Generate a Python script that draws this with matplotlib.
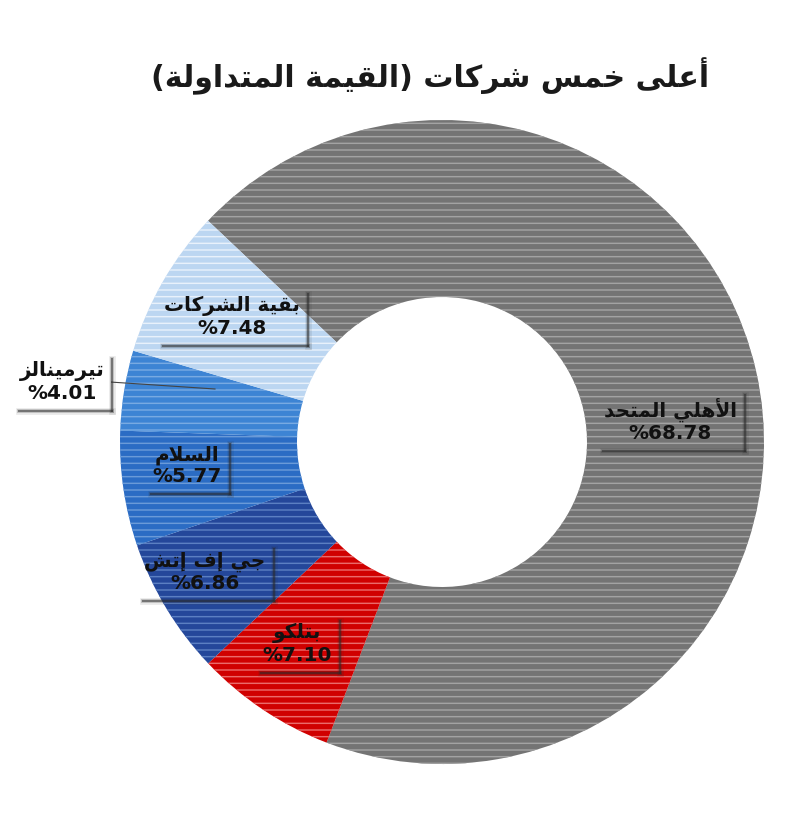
import matplotlib
matplotlib.use("Agg")
import matplotlib.pyplot as plt
from matplotlib.lines import Line2D

# ---------------- data ----------------
companies = ["الأهلي المتحد", "بتلكو", "جي إف إتش", "السلام", "تيرمينالز", "بقية الشركات"]
values = [68.78, 7.10, 6.86, 5.77, 4.01, 7.48]
value_labels = ["%68.78", "%7.10", "%6.86", "%5.77", "%4.01", "%7.48"]
title = "أعلى خمس شركات (القيمة المتداولة)"

face_colors = ["#747474", "#d00000", "#24479a", "#2b6cc4", "#3d84d4", "#bcd6f1"]
stripe_colors = ["#a3a3a3", "#ea6a6a", "#5b7fc2", "#6a9ad8", "#78aae2", "#e8f1fb"]

# ---------------- minimal Arabic shaping (presentation forms) ----------------
FORMS = {
    '\u0627': ('\uFE8D', '\uFE8E', None, None),
    '\u0623': ('\uFE83', '\uFE84', None, None),
    '\u0625': ('\uFE87', '\uFE88', None, None),
    '\u0628': ('\uFE8F', '\uFE90', '\uFE91', '\uFE92'),
    '\u0629': ('\uFE93', '\uFE94', None, None),
    '\u062A': ('\uFE95', '\uFE96', '\uFE97', '\uFE98'),
    '\u062C': ('\uFE9D', '\uFE9E', '\uFE9F', '\uFEA0'),
    '\u062D': ('\uFEA1', '\uFEA2', '\uFEA3', '\uFEA4'),
    '\u062E': ('\uFEA5', '\uFEA6', '\uFEA7', '\uFEA8'),
    '\u062F': ('\uFEA9', '\uFEAA', None, None),
    '\u0631': ('\uFEAD', '\uFEAE', None, None),
    '\u0632': ('\uFEAF', '\uFEB0', None, None),
    '\u0633': ('\uFEB1', '\uFEB2', '\uFEB3', '\uFEB4'),
    '\u0634': ('\uFEB5', '\uFEB6', '\uFEB7', '\uFEB8'),
    '\u0639': ('\uFEC9', '\uFECA', '\uFECB', '\uFECC'),
    '\u0641': ('\uFED1', '\uFED2', '\uFED3', '\uFED4'),
    '\u0642': ('\uFED5', '\uFED6', '\uFED7', '\uFED8'),
    '\u0643': ('\uFED9', '\uFEDA', '\uFEDB', '\uFEDC'),
    '\u0644': ('\uFEDD', '\uFEDE', '\uFEDF', '\uFEE0'),
    '\u0645': ('\uFEE1', '\uFEE2', '\uFEE3', '\uFEE4'),
    '\u0646': ('\uFEE5', '\uFEE6', '\uFEE7', '\uFEE8'),
    '\u0647': ('\uFEE9', '\uFEEA', '\uFEEB', '\uFEEC'),
    '\u0648': ('\uFEED', '\uFEEE', None, None),
    '\u0649': ('\uFEEF', '\uFEF0', None, None),
    '\u064A': ('\uFEF1', '\uFEF2', '\uFEF3', '\uFEF4'),
}
LAM_ALEF = {
    '\u0627': ('\uFEFB', '\uFEFC', None, None),
    '\u0623': ('\uFEF7', '\uFEF8', None, None),
    '\u0625': ('\uFEF9', '\uFEFA', None, None),
}


def shape(s):
    tokens = []
    i = 0
    while i < len(s):
        c = s[i]
        if c == '\u0644' and i + 1 < len(s) and s[i + 1] in LAM_ALEF:
            tokens.append((c + s[i + 1], LAM_ALEF[s[i + 1]]))
            i += 2
        else:
            tokens.append((c, FORMS.get(c)))
            i += 1
    out = []
    for k, (c, f) in enumerate(tokens):
        if f is None:
            out.append(c)
            continue
        prev = tokens[k - 1][1] if k > 0 else None
        nxt = tokens[k + 1][1] if k + 1 < len(tokens) else None
        jp = prev is not None and prev[2] is not None
        jn = f[2] is not None and nxt is not None
        if jp and jn:
            out.append(f[3])
        elif jp:
            out.append(f[1])
        elif jn:
            out.append(f[2])
        else:
            out.append(f[0])
    vis = ''.join(out)[::-1]
    return vis.translate(str.maketrans('()', ')('))


# ---------------- figure ----------------
W, H = 800, 818
DPI = 80
plt.rcParams['font.family'] = ['DejaVu Sans']
plt.rcParams['hatch.linewidth'] = 1.3
fig = plt.figure(figsize=(W / DPI, H / DPI), dpi=DPI)
ax = fig.add_axes([0, 0, 1, 1])


def py(y):
    return H - y


cx, cy = 442, 442
R_out, R_in = 322, 145

wedges, _ = ax.pie(values, startangle=136.6, counterclock=False,
                   center=(cx, py(cy)), radius=R_out,
                   colors=face_colors,
                   wedgeprops=dict(width=R_out - R_in, linewidth=0))
for w, sc in zip(wedges, stripe_colors):
    w.set_edgecolor(sc)
    w.set_linewidth(0)
    w.set_hatch('--')

ax.set_xlim(0, W)
ax.set_ylim(0, H)
ax.set_aspect('equal')
ax.axis('off')

ax.text(430, py(76), shape(title), ha='center', va='center',
        fontsize=27, fontweight='bold', color='#1a1a1a')

# label positions (pixel coords of text centres) and box style
label_pos = [(670, 420), (297, 644), (205, 572), (187, 466), (62, 382), (232, 317)]
label_fill = ['none', 'none', 'none', 'none', 'white', 'none']

texts = []
for name, vl, (x, y), fc in zip(companies, value_labels, label_pos, label_fill):
    t = ax.text(x, py(y), shape(name) + "\n" + vl, ha='center', va='center',
                fontsize=18, fontweight='bold', color='#111111',
                linespacing=1.15,
                bbox=dict(boxstyle='square,pad=0.35', facecolor=fc, edgecolor='none'))
    texts.append(t)

# leader line for the small slice label
ax.add_line(Line2D([110, 215], [py(382), py(389)], color='#444444', lw=1.0))

fig.canvas.draw()
r = fig.canvas.get_renderer()
for t in texts:
    bb = t.get_bbox_patch().get_window_extent(r)
    x0, y0, x1, y1 = bb.x0, bb.y0, bb.x1, bb.y1
    for lw, a in [(6, 0.10), (3.5, 0.22), (1.8, 0.5)]:
        fig.add_artist(Line2D([x1 + 1, x1 + 1], [y0 - 1, y1 - 6], lw=lw,
                              color='#2a2a2a', alpha=a, transform=None))
        fig.add_artist(Line2D([x0 + 6, x1 + 1], [y0 - 1, y0 - 1], lw=lw,
                              color='#2a2a2a', alpha=a, transform=None))

fig.savefig("out.png", dpi=DPI)
